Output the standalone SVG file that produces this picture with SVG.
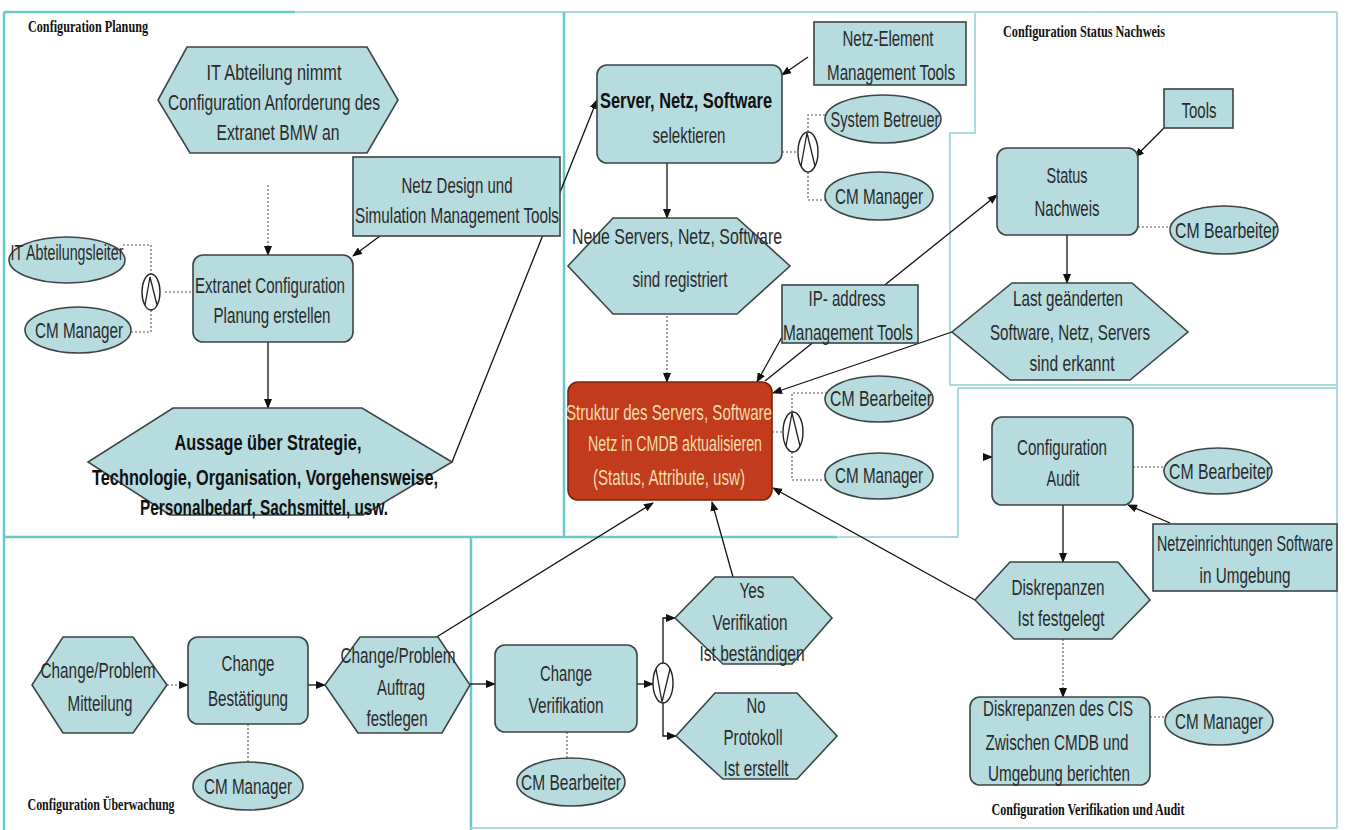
<svg xmlns="http://www.w3.org/2000/svg" width="1351" height="830" viewBox="0 0 1351 830">
<style>
.bg{fill:#ffffff}
.pl{fill:none;stroke:#6cc8c8;stroke-width:2.5}
.pl2{fill:none;stroke:#a9dcdc;stroke-width:2}
.sh{fill:#b6dce0;stroke:#3c4446;stroke-width:1.6}
.red{fill:#c23b1c;stroke:#7a2412;stroke-width:1.6}
.gate{fill:#ffffff;stroke:#222;stroke-width:1.4}
.sym{fill:none;stroke:#222;stroke-width:1.3}
.t{font-family:"Liberation Sans Narrow","Liberation Sans",Arial,sans-serif;font-size:22px;fill:#2a2a2a;text-anchor:middle}
.tb{font-family:"Liberation Sans Narrow","Liberation Sans",Arial,sans-serif;font-size:22px;font-weight:bold;fill:#111;text-anchor:middle}
.tr{font-family:"Liberation Sans Narrow","Liberation Sans",Arial,sans-serif;font-size:22px;fill:#f3dcae;text-anchor:middle}
.ti{font-family:"Liberation Serif","Times New Roman",serif;font-size:17px;font-weight:bold;fill:#111;text-anchor:middle}
.c{fill:none;stroke:#111;stroke-width:1.3}
.d{fill:none;stroke:#555;stroke-width:1.1;stroke-dasharray:2 2}
</style>
<defs>
<marker id="ah" markerWidth="10" markerHeight="8" refX="9" refY="4" orient="auto" markerUnits="userSpaceOnUse">
<path d="M0,0 L10,4 L0,8 Z" fill="#111"/>
</marker>
</defs>
<rect class="bg" x="0" y="0" width="1351" height="830"/>

<g id="panels">
<path class="pl" d="M4,12 H295"/>
<path class="pl2" d="M295,12 H1337"/>
<path class="pl" d="M4,12 V830"/>
<path class="pl" d="M564,12 V537"/>
<path class="pl" d="M4,537 H837"/>
<path class="pl2" d="M837,537 H958"/>
<path class="pl" d="M471,537 V830"/>
<path class="pl2" d="M975,12 V133 H950 V385 H1337"/>
<path class="pl2" d="M958,388 H1337 M958,388 V537"/>
<path class="pl2" d="M1337,12 V828"/>
<path class="pl2" d="M471,828 H1337"/>
</g>

<g id="titles">
<text class="ti" x="88" y="32" textLength="120" lengthAdjust="spacingAndGlyphs">Configuration Planung</text>
<text class="ti" x="1084" y="37" textLength="162" lengthAdjust="spacingAndGlyphs">Configuration Status Nachweis</text>
<text class="ti" x="101" y="810" textLength="147" lengthAdjust="spacingAndGlyphs">Configuration Überwachung</text>
<text class="ti" x="1088" y="815" textLength="193" lengthAdjust="spacingAndGlyphs">Configuration Verifikation und Audit</text>
</g>

<g id="connectors">
<path class="d" d="M268,185 V255" marker-end="url(#ah)"/>
<path class="c" d="M380,236 L353,256" marker-end="url(#ah)"/>
<path class="d" d="M123,245 H151 V274"/>
<path class="d" d="M131,332 H151 V310"/>
<path class="d" d="M165,292 H193"/>
<path class="c" d="M268,342 V408" marker-end="url(#ah)"/>
<path class="c" d="M452,462 L597,100" marker-end="url(#ah)"/>
<path class="c" d="M808,57 L782,75" marker-end="url(#ah)"/>
<path class="d" d="M782,152 H798"/>
<path class="d" d="M808,132 V115 H826"/>
<path class="d" d="M808,172 V200 H826"/>
<path class="c" d="M667,163 V218" marker-end="url(#ah)"/>
<path class="d" d="M667,316 V382" marker-end="url(#ah)"/>
<path class="c" d="M782,337 L757,382" marker-end="url(#ah)"/>
<path class="c" d="M765,381 L997,195" marker-end="url(#ah)"/>
<path class="c" d="M952,332 L773,393" marker-end="url(#ah)"/>
<path class="c" d="M975,600 L773,488" marker-end="url(#ah)"/>
<path class="c" d="M435,638 L653,503" marker-end="url(#ah)"/>
<path class="c" d="M733,577 L712,502" marker-end="url(#ah)"/>
<path class="d" d="M772,432 H783"/>
<path class="d" d="M792,412 V393 H826"/>
<path class="d" d="M792,452 V480 H826"/>
<path class="c" d="M1164,128 L1135,157" marker-end="url(#ah)"/>
<path class="d" d="M1138,227 H1170"/>
<path class="c" d="M1067,235 V283" marker-end="url(#ah)"/>
<path class="c" d="M983,457 H992" marker-end="url(#ah)"/>
<path class="d" d="M1133,467 H1164"/>
<path class="c" d="M1170,523 L1128,505" marker-end="url(#ah)"/>
<path class="c" d="M1063,505 V562" marker-end="url(#ah)"/>
<path class="d" d="M1063,639 V697" marker-end="url(#ah)"/>
<path class="d" d="M1150,717 H1165"/>
<path class="d" d="M167,685 H188" marker-end="url(#ah)"/>
<path class="d" d="M248,724 V762"/>
<path class="c" d="M308,685 H325" marker-end="url(#ah)"/>
<path class="c" d="M470,684 H495" marker-end="url(#ah)"/>
<path class="d" d="M567,732 V758"/>
<path class="c" d="M637,684 H653" marker-end="url(#ah)"/>
<path class="c" d="M663,663 V618 H675" marker-end="url(#ah)"/>
<path class="c" d="M663,703 V736 H676" marker-end="url(#ah)"/>
</g>

<g id="n-it-abteilung">
<polygon class="sh" points="187,47 367,47 398,100 367,153 190,153 158,100"/>
<text class="t" x="274" y="80" textLength="135" lengthAdjust="spacingAndGlyphs">IT Abteilung nimmt</text>
<text class="t" x="274" y="110" textLength="212" lengthAdjust="spacingAndGlyphs">Configuration Anforderung des</text>
<text class="t" x="278" y="140" textLength="123" lengthAdjust="spacingAndGlyphs">Extranet BMW an</text>
</g>
<g id="n-netz-design">
<rect class="sh" x="353" y="157" width="207" height="79"/>
<text class="t" x="457" y="193" textLength="111" lengthAdjust="spacingAndGlyphs">Netz Design und</text>
<text class="t" x="457" y="223" textLength="204" lengthAdjust="spacingAndGlyphs">Simulation Management Tools</text>
</g>
<g id="n-it-leiter">
<ellipse class="sh" cx="67" cy="260" rx="58" ry="23"/>
<text class="t" x="67" y="260" textLength="113" lengthAdjust="spacingAndGlyphs">IT Abteilungsleiter</text>
</g>
<g id="n-cm-manager-1">
<ellipse class="sh" cx="78" cy="330" rx="53" ry="23"/>
<text class="t" x="79" y="338" textLength="88" lengthAdjust="spacingAndGlyphs">CM Manager</text>
</g>
<g id="g-and-1">
<ellipse class="gate" cx="151" cy="292" rx="9" ry="18"/>
<path class="sym" d="M145,305 L150,277 L157,305"/>
</g>
<g id="n-extranet">
<rect class="sh" x="193" y="255" width="160" height="87" rx="10"/>
<text class="t" x="270" y="293" textLength="150" lengthAdjust="spacingAndGlyphs">Extranet Configuration</text>
<text class="t" x="272" y="323" textLength="117" lengthAdjust="spacingAndGlyphs">Planung erstellen</text>
</g>
<g id="n-aussage">
<polygon class="sh" points="173,408 362,408 452,462 363,515 170,515 88,462"/>
<text class="tb" x="268" y="450" textLength="187" lengthAdjust="spacingAndGlyphs">Aussage über Strategie,</text>
<text class="tb" x="265" y="485" textLength="346" lengthAdjust="spacingAndGlyphs">Technologie, Organisation, Vorgehensweise,</text>
<text class="tb" x="264" y="515" textLength="248" lengthAdjust="spacingAndGlyphs">Personalbedarf, Sachsmittel, usw.</text>
</g>

<g id="n-server">
<rect class="sh" x="597" y="65" width="185" height="98" rx="10"/>
<text class="tb" x="686" y="108" textLength="172" lengthAdjust="spacingAndGlyphs">Server, Netz, Software</text>
<text class="t" x="689" y="143" textLength="73" lengthAdjust="spacingAndGlyphs">selektieren</text>
</g>
<g id="n-netz-element">
<rect class="sh" x="814" y="22" width="152" height="63"/>
<text class="t" x="888" y="46" textLength="91" lengthAdjust="spacingAndGlyphs">Netz-Element</text>
<text class="t" x="891" y="80" textLength="128" lengthAdjust="spacingAndGlyphs">Management Tools</text>
</g>
<g id="n-system-betreuer">
<ellipse class="sh" cx="883" cy="119" rx="58" ry="24"/>
<text class="t" x="885" y="127" textLength="109" lengthAdjust="spacingAndGlyphs">System Betreuer</text>
</g>
<g id="n-cm-manager-2">
<ellipse class="sh" cx="879" cy="196" rx="54" ry="24"/>
<text class="t" x="879" y="204" textLength="88" lengthAdjust="spacingAndGlyphs">CM Manager</text>
</g>
<g id="g-and-2">
<ellipse class="gate" cx="808" cy="152" rx="10" ry="20"/>
<path class="sym" d="M801,166 L807,133 L815,166"/>
</g>
<g id="n-neue">
<polygon class="sh" points="613,218 737,218 790,266 737,314 613,314 568,266"/>
<text class="t" x="677" y="244" textLength="210" lengthAdjust="spacingAndGlyphs">Neue Servers, Netz, Software</text>
<text class="t" x="680" y="287" textLength="95" lengthAdjust="spacingAndGlyphs">sind registriert</text>
</g>
<g id="n-ip">
<rect class="sh" x="782" y="285" width="136" height="58"/>
<text class="t" x="847" y="306" textLength="77" lengthAdjust="spacingAndGlyphs">IP- address</text>
<text class="t" x="848" y="340" textLength="130" lengthAdjust="spacingAndGlyphs">Management Tools</text>
</g>
<g id="n-struktur">
<rect class="red" x="568" y="382" width="204" height="118" rx="10"/>
<text class="tr" x="669" y="420" textLength="206" lengthAdjust="spacingAndGlyphs">Struktur des Servers, Software</text>
<text class="tr" x="675" y="451" textLength="174" lengthAdjust="spacingAndGlyphs">Netz in CMDB aktualisieren</text>
<text class="tr" x="669" y="485" textLength="152" lengthAdjust="spacingAndGlyphs">(Status, Attribute, usw)</text>
</g>
<g id="g-and-3">
<ellipse class="gate" cx="793" cy="432" rx="10" ry="20"/>
<path class="sym" d="M786,446 L792,413 L800,446"/>
</g>
<g id="n-cm-bearbeiter-1">
<ellipse class="sh" cx="879" cy="399" rx="54" ry="23"/>
<text class="t" x="881" y="406" textLength="102" lengthAdjust="spacingAndGlyphs">CM Bearbeiter</text>
</g>
<g id="n-cm-manager-3">
<ellipse class="sh" cx="879" cy="476" rx="54" ry="23"/>
<text class="t" x="879" y="483" textLength="88" lengthAdjust="spacingAndGlyphs">CM Manager</text>
</g>

<g id="n-tools">
<rect class="sh" x="1164" y="89" width="69" height="39"/>
<text class="t" x="1199" y="118" textLength="35" lengthAdjust="spacingAndGlyphs">Tools</text>
</g>
<g id="n-status">
<rect class="sh" x="997" y="148" width="141" height="87" rx="10"/>
<text class="t" x="1067" y="183" textLength="41" lengthAdjust="spacingAndGlyphs">Status</text>
<text class="t" x="1067" y="216" textLength="65" lengthAdjust="spacingAndGlyphs">Nachweis</text>
</g>
<g id="n-cm-bearbeiter-2">
<ellipse class="sh" cx="1224" cy="230" rx="54" ry="24"/>
<text class="t" x="1226" y="238" textLength="102" lengthAdjust="spacingAndGlyphs">CM Bearbeiter</text>
</g>
<g id="n-last">
<polygon class="sh" points="1012,283 1132,283 1188,332 1130,380 1010,380 952,332"/>
<text class="t" x="1068" y="306" textLength="110" lengthAdjust="spacingAndGlyphs">Last geänderten</text>
<text class="t" x="1070" y="340" textLength="160" lengthAdjust="spacingAndGlyphs">Software, Netz, Servers</text>
<text class="t" x="1072" y="371" textLength="85" lengthAdjust="spacingAndGlyphs">sind erkannt</text>
</g>

<g id="n-audit">
<rect class="sh" x="992" y="417" width="141" height="88" rx="10"/>
<text class="t" x="1062" y="455" textLength="90" lengthAdjust="spacingAndGlyphs">Configuration</text>
<text class="t" x="1063" y="486" textLength="33" lengthAdjust="spacingAndGlyphs">Audit</text>
</g>
<g id="n-cm-bearbeiter-3">
<ellipse class="sh" cx="1218" cy="471" rx="54" ry="23"/>
<text class="t" x="1220" y="479" textLength="102" lengthAdjust="spacingAndGlyphs">CM Bearbeiter</text>
</g>
<g id="n-netzeinrichtungen">
<rect class="sh" x="1153" y="524" width="184" height="67"/>
<text class="t" x="1245" y="551" textLength="176" lengthAdjust="spacingAndGlyphs">Netzeinrichtungen Software</text>
<text class="t" x="1245" y="583" textLength="91" lengthAdjust="spacingAndGlyphs">in Umgebung</text>
</g>
<g id="n-diskrepanzen">
<polygon class="sh" points="1010,562 1118,562 1150,600 1112,639 1014,639 975,600"/>
<text class="t" x="1058" y="595" textLength="93" lengthAdjust="spacingAndGlyphs">Diskrepanzen</text>
<text class="t" x="1061" y="626" textLength="87" lengthAdjust="spacingAndGlyphs">Ist festgelegt</text>
</g>
<g id="n-cis">
<rect class="sh" x="970" y="697" width="180" height="88" rx="10"/>
<text class="t" x="1058" y="716" textLength="150" lengthAdjust="spacingAndGlyphs">Diskrepanzen des CIS</text>
<text class="t" x="1057" y="750" textLength="143" lengthAdjust="spacingAndGlyphs">Zwischen CMDB und</text>
<text class="t" x="1059" y="781" textLength="142" lengthAdjust="spacingAndGlyphs">Umgebung berichten</text>
</g>
<g id="n-cm-manager-4">
<ellipse class="sh" cx="1219" cy="721" rx="54" ry="24"/>
<text class="t" x="1219" y="729" textLength="88" lengthAdjust="spacingAndGlyphs">CM Manager</text>
</g>

<g id="n-mitteilung">
<polygon class="sh" points="63,637 133,637 167,685 133,733 63,733 32,685"/>
<text class="t" x="98" y="678" textLength="115" lengthAdjust="spacingAndGlyphs">Change/Problem</text>
<text class="t" x="100" y="711" textLength="65" lengthAdjust="spacingAndGlyphs">Mitteilung</text>
</g>
<g id="n-bestaetigung">
<rect class="sh" x="188" y="637" width="120" height="87" rx="10"/>
<text class="t" x="248" y="671" textLength="53" lengthAdjust="spacingAndGlyphs">Change</text>
<text class="t" x="248" y="706" textLength="80" lengthAdjust="spacingAndGlyphs">Bestätigung</text>
</g>
<g id="n-cm-manager-5">
<ellipse class="sh" cx="248" cy="786" rx="55" ry="24"/>
<text class="t" x="248" y="794" textLength="88" lengthAdjust="spacingAndGlyphs">CM Manager</text>
</g>
<g id="n-auftrag">
<polygon class="sh" points="360,637 438,637 470,685 442,733 358,733 325,685"/>
<text class="t" x="398" y="663" textLength="115" lengthAdjust="spacingAndGlyphs">Change/Problem</text>
<text class="t" x="401" y="695" textLength="48" lengthAdjust="spacingAndGlyphs">Auftrag</text>
<text class="t" x="397" y="726" textLength="61" lengthAdjust="spacingAndGlyphs">festlegen</text>
</g>
<g id="n-verifikation">
<rect class="sh" x="495" y="645" width="142" height="87" rx="10"/>
<text class="t" x="566" y="681" textLength="52" lengthAdjust="spacingAndGlyphs">Change</text>
<text class="t" x="566" y="713" textLength="75" lengthAdjust="spacingAndGlyphs">Verifikation</text>
</g>
<g id="n-cm-bearbeiter-4">
<ellipse class="sh" cx="571" cy="782" rx="54" ry="24"/>
<text class="t" x="571" y="790" textLength="100" lengthAdjust="spacingAndGlyphs">CM Bearbeiter</text>
</g>
<g id="g-or">
<ellipse class="gate" cx="663" cy="683" rx="10" ry="20"/>
<path class="sym" d="M656,669 L662,702 L670,669"/>
</g>
<g id="n-yes">
<polygon class="sh" points="715,577 793,577 832,618 792,664 723,664 675,618"/>
<text class="t" x="752" y="598" textLength="25" lengthAdjust="spacingAndGlyphs">Yes</text>
<text class="t" x="750" y="630" textLength="75" lengthAdjust="spacingAndGlyphs">Verifikation</text>
<text class="t" x="752" y="661" textLength="105" lengthAdjust="spacingAndGlyphs">Ist beständigen</text>
</g>
<g id="n-no">
<polygon class="sh" points="715,693 797,693 837,736 797,779 723,779 676,736"/>
<text class="t" x="756" y="713" textLength="19" lengthAdjust="spacingAndGlyphs">No</text>
<text class="t" x="753" y="745" textLength="59" lengthAdjust="spacingAndGlyphs">Protokoll</text>
<text class="t" x="756" y="776" textLength="65" lengthAdjust="spacingAndGlyphs">Ist erstellt</text>
</g>
</svg>
